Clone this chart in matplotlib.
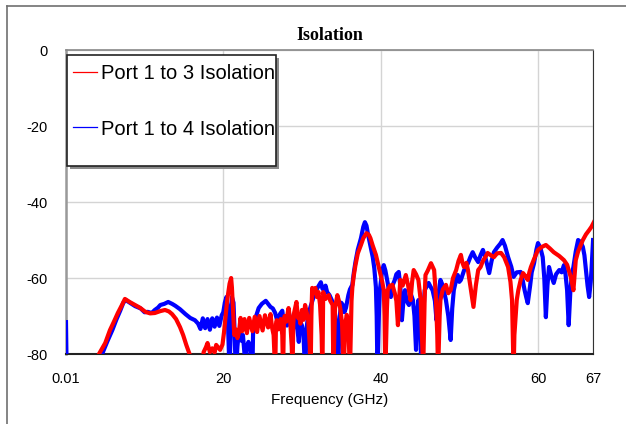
import matplotlib
matplotlib.use("Agg")
import matplotlib.pyplot as plt
from matplotlib.patches import Rectangle
from matplotlib.lines import Line2D

plt.rcParams['axes.unicode_minus'] = False

# Port 1 to 4 isolation (blue): frequency in GHz, level in dB
# (values below -80 just mean "off the bottom of the chart")
freqP14 = [0.01, 0.1, 4.3, 4.6, 5.3, 5.9, 6.4, 6.9, 7.3, 7.6, 8.2, 8.8, 9.5, 10.0, 10.4, 10.9,
           11.3, 11.7, 12.0, 12.5, 13.0, 13.5, 13.9, 14.5, 15.2, 15.8, 16.4, 16.8, 17.1, 17.4,
           17.7, 18.0, 18.3, 18.6, 18.9, 19.2, 19.5, 19.8, 20.0, 20.2, 20.4, 20.5, 20.6, 20.8,
           21.0, 21.1, 21.3, 21.4, 21.6, 21.8, 21.9, 22.1, 22.3, 22.5, 22.7, 22.8, 23.0, 23.2,
           23.5, 23.7, 23.8, 24.1, 24.5, 24.9, 25.4, 25.7, 26.0, 26.3, 26.6, 26.8, 27.0, 27.2,
           27.5, 27.7, 27.9, 28.1, 28.3, 28.5, 28.8, 29.0, 29.2, 29.4, 29.6, 29.8, 30.0, 30.2,
           30.4, 30.6, 30.8, 31.1, 31.4, 31.7, 32.0, 32.4, 32.6, 32.8, 33.0, 33.2, 33.5, 33.9,
           34.1, 34.3, 34.5, 34.6, 34.8, 35.0, 35.2, 35.4, 35.6, 35.9, 36.1, 36.4, 36.6, 36.8,
           37.1, 37.5, 37.8, 38.0, 38.2, 38.4, 38.7, 39.0, 39.2, 39.4, 39.5, 39.6, 39.8, 39.9,
           40.2, 40.4, 40.6, 40.9, 41.1, 41.3, 41.5, 41.8, 42.0, 42.3, 42.5, 42.7, 42.9, 43.1,
           43.3, 43.6, 43.8, 44.1, 44.3, 44.5, 44.6, 44.8, 45.0, 45.2, 45.4, 45.6, 45.9, 46.1,
           46.4, 46.6, 46.9, 47.1, 47.3, 47.6, 47.9, 48.3, 48.6, 48.9, 49.1, 49.3, 49.6, 49.8,
           50.0, 50.2, 50.6, 51.1, 51.4, 51.7, 52.0, 52.4, 52.7, 53.0, 53.3, 53.6, 53.8, 54.1,
           54.4, 54.8, 55.2, 55.5, 55.8, 56.2, 56.6, 56.9, 57.3, 57.8, 58.0, 58.3, 58.5, 58.7,
           59.0, 59.2, 59.5, 59.8, 60.0, 60.3, 60.6, 60.8, 61.0, 61.2, 61.4, 61.7, 62.0, 62.3,
           62.7, 63.0, 63.3, 63.5, 63.7, 63.9, 64.1, 64.3, 64.5, 64.8, 65.1, 65.4, 65.7, 65.9,
           66.1, 66.3, 66.5, 66.7, 66.8, 67.0]
isoP14 = [-71.6, -85, -85, -80, -76.5, -73.7, -71.0, -68.6, -66.5, -65.8, -66.6, -67.4, -68.0, -69.0, -68.9, -69.2,
          -68.4, -67.8, -67.1, -66.8, -66.3, -66.8, -67.3, -68.2, -69.5, -70.5, -71.1, -72.0, -73.4, -70.6,
          -73.2, -70.8, -73.6, -70.6, -72.8, -70.4, -72.6, -69.8, -69.0, -66.5, -65.0, -67.0, -72.0, -85,
          -68.0, -65.0, -66.5, -72.0, -85, -78.0, -75.8, -74.5, -76.5, -75.0, -80.0, -85, -78.0, -76.8,
          -79.0, -85, -73.0, -70.5, -67.9, -66.8, -66.0, -66.8, -67.6, -68.0, -69.2, -70.8, -71.6, -69.5,
          -68.6, -71.8, -70.5, -72.5, -68.9, -70.5, -74.8, -71.0, -70.0, -73.0, -76.8, -71.5, -72.5, -75.0,
          -85, -73.0, -69.7, -67.5, -65.5, -63.7, -62.5, -61.1, -62.8, -63.2, -62.0, -63.7, -64.5, -66.3,
          -68.0, -71.6, -77.0, -85, -70.0, -66.5, -67.1, -69.0, -67.8, -64.5, -63.0, -61.8, -58.5, -55.8,
          -52.5, -49.5, -46.5, -45.3, -46.2, -48.5, -51.5, -54.5, -57.5, -62.4, -70.0, -85, -68.0, -63.2,
          -58.0, -56.6, -58.0, -61.3, -64.0, -65.0, -62.0, -60.5, -59.0, -58.4, -62.0, -71.1, -66.0, -63.2,
          -66.0, -67.1, -64.0, -65.8, -70.0, -78.9, -70.0, -65.8, -72.0, -85, -70.0, -63.2, -62.0, -61.3,
          -62.5, -63.2, -66.0, -71.1, -65.0, -60.5, -62.0, -65.8, -70.0, -76.3, -68.0, -63.2, -60.5, -59.2,
          -61.0, -60.5, -58.0, -56.1, -54.5, -53.2, -54.5, -55.8, -54.0, -52.6, -54.5, -57.0, -58.7, -55.5,
          -53.2, -52.0, -51.0, -50.0, -51.5, -54.5, -57.0, -59.7, -58.5, -58.4, -60.0, -63.2, -65.0, -66.6,
          -62.0, -58.5, -56.1, -52.5, -50.8, -52.0, -54.5, -60.0, -70.3, -62.0, -57.1, -59.5, -61.3, -59.0,
          -57.9, -58.5, -56.6, -59.0, -63.2, -72.4, -64.0, -59.0, -57.1, -53.0, -50.0, -50.5, -51.8, -54.0,
          -57.9, -62.0, -65.0, -61.0, -57.9, -50.0]

# Port 1 to 3 isolation (red)
freqP13 = [0.01, 4.1, 4.2, 5.0, 5.6, 6.1, 6.6, 7.1, 7.5, 8.1, 8.8, 9.4, 10.1, 10.7, 11.3, 12.0,
           12.6, 13.1, 13.5, 14.0, 14.5, 14.9, 15.3, 15.8, 16.0, 17.4, 17.5, 17.8, 18.0, 18.3,
           18.6, 18.9, 19.1, 19.4, 19.6, 19.9, 20.1, 20.3, 20.5, 20.8, 21.0, 21.1, 21.2, 21.4,
           21.6, 21.8, 22.0, 22.2, 22.4, 22.7, 23.0, 23.3, 23.7, 24.0, 24.3, 24.6, 25.0, 25.3,
           25.7, 26.0, 26.2, 26.4, 26.6, 26.7, 26.8, 27.0, 27.3, 27.5, 27.6, 27.7, 27.8, 28.0,
           28.3, 28.5, 28.7, 28.8, 28.9, 29.0, 29.3, 29.5, 29.6, 29.8, 30.0, 30.2, 30.4, 30.6,
           30.8, 31.0, 31.1, 31.2, 31.3, 31.5, 31.7, 31.9, 32.1, 32.3, 32.5, 32.6, 32.7, 33.0,
           33.4, 33.6, 33.9, 34.0, 34.2, 34.5, 34.7, 34.9, 35.1, 35.3, 35.5, 35.7, 35.9, 36.1,
           36.3, 36.4, 36.6, 36.8, 37.1, 37.5, 37.8, 38.2, 38.5, 38.7, 39.0, 39.4, 39.7, 40.0,
           40.2, 40.4, 40.5, 40.6, 40.8, 40.9, 41.2, 41.5, 41.8, 42.0, 42.2, 42.4, 42.5, 42.8,
           43.2, 43.5, 43.8, 44.0, 44.2, 44.5, 44.8, 45.1, 45.3, 45.4, 45.6, 45.7, 46.0, 46.4,
           46.6, 46.8, 47.0, 47.2, 47.3, 47.5, 47.6, 47.9, 48.3, 48.6, 48.9, 49.2, 49.6, 49.9,
           50.2, 50.4, 50.6, 50.9, 51.1, 51.4, 51.8, 52.1, 52.4, 52.7, 53.0, 53.3, 53.6, 54.0,
           54.4, 54.8, 55.3, 55.7, 56.2, 56.5, 56.7, 56.8, 56.9, 57.0, 57.3, 57.5, 57.8, 58.1,
           58.4, 58.7, 58.9, 59.1, 59.5, 60.0, 60.5, 61.0, 61.5, 62.0, 62.7, 63.3, 63.7, 63.9,
           64.2, 64.5, 64.8, 65.1, 65.4, 65.7, 66.1, 66.5, 66.8, 67.1]
isoP13 = [-85, -85, -80, -77.1, -73.7, -71.5, -69.2, -67.2, -65.5, -66.3, -67.1, -67.8, -68.9, -69.3, -69.2, -68.7,
          -68.4, -68.8, -69.5, -70.8, -72.9, -75.0, -77.6, -80.5, -85, -85, -79.5, -78.2, -77.1, -79.5,
          -78.5, -79.6, -77.6, -78.4, -78.9, -77.5, -74.2, -70.0, -65.8, -61.5, -60.0, -62.5, -66.5, -75.0,
          -73.5, -75.8, -74.2, -70.5, -74.0, -70.8, -74.5, -70.5, -74.0, -70.2, -74.2, -70.0, -73.8, -69.8,
          -73.0, -69.5, -73.0, -75.0, -85, -72.0, -71.1, -73.5, -70.8, -75.0, -85, -72.0, -70.0, -71.5,
          -67.9, -71.0, -78.0, -85, -72.0, -69.2, -66.3, -70.5, -69.5, -72.0, -68.4, -71.0, -67.1, -69.0,
          -71.1, -78.0, -85, -70.0, -62.6, -64.0, -62.6, -65.0, -63.7, -67.0, -75.0, -85, -63.7, -65.5,
          -64.5, -66.0, -67.1, -85, -68.0, -64.5, -66.0, -68.4, -72.0, -85, -72.0, -69.7, -73.0, -85,
          -66.0, -62.6, -59.2, -56.6, -53.5, -51.3, -49.5, -48.2, -48.6, -49.5, -51.5, -53.9, -56.5, -59.2,
          -61.0, -63.2, -70.0, -85, -68.0, -63.2, -62.0, -61.8, -64.0, -66.0, -72.4, -64.0, -60.5, -62.0,
          -59.2, -62.0, -65.8, -61.0, -57.9, -59.0, -60.5, -66.0, -78.0, -85, -65.0, -59.2, -58.0, -56.1,
          -57.0, -57.9, -64.0, -75.0, -85, -70.0, -65.8, -63.0, -61.8, -64.0, -63.2, -60.0, -57.9, -55.5,
          -53.9, -56.0, -57.1, -56.0, -57.9, -62.0, -67.6, -62.0, -57.9, -57.1, -55.5, -54.5, -53.4, -54.0,
          -54.5, -53.5, -53.4, -54.5, -57.1, -61.0, -65.8, -75.0, -85, -75.0, -65.8, -63.2, -60.5, -58.7,
          -59.5, -60.5, -58.5, -57.1, -55.0, -52.6, -51.8, -51.3, -52.2, -53.2, -54.2, -55.3, -56.5, -57.9,
          -60.0, -63.2, -55.3, -53.0, -51.5, -50.0, -48.5, -47.4, -46.5, -45.3]

xTicks = [0.01, 20, 40, 60, 67]
xTickLabels = ["0.01", "20", "40", "60", "67"]
yTicks = [0, -20, -40, -60, -80]
yTickLabels = ["0", "-20", "-40", "-60", "-80"]
labelP13 = "Port 1 to 3 Isolation"
labelP14 = "Port 1 to 4 Isolation"

fig = plt.figure(figsize=(6.26, 4.24), dpi=100)
ax = fig.add_axes([0.1054, 0.165, 0.842, 0.717])

# outer frame of the picture (only left and top edges are visible)
fig.add_artist(Line2D([7/626, 7/626], [0, 1 - 6/424], transform=fig.transFigure, color='#707070', lw=1.2))
fig.add_artist(Line2D([7/626, 1], [1 - 6/424, 1 - 6/424], transform=fig.transFigure, color='#707070', lw=1.2))

ax.plot(freqP14, isoP14, color='#0000ff', lw=3.0, zorder=3)
ax.plot(freqP13, isoP13, color='#ff0000', lw=3.0, zorder=4)

ax.set_xlim(0.01, 67)
ax.set_ylim(-80, 0)
ax.set_xticks(xTicks)
ax.set_xticklabels(xTickLabels)
ax.set_yticks(yTicks)
ax.set_yticklabels(yTickLabels)
ax.tick_params(length=0, labelsize=10.5, pad=13)
for lbl in ax.get_xticklabels() + ax.get_yticklabels():
    lbl.set_family('Liberation Sans')
ax.grid(True, color='#d4d4d4', lw=1)
ax.set_axisbelow(True)

ax.spines['left'].set_color('#999999')
ax.spines['left'].set_linewidth(1.8)
ax.spines['top'].set_color('#888888')
ax.spines['top'].set_linewidth(1.2)
ax.spines['right'].set_color('#333333')
ax.spines['bottom'].set_color('#222222')
ax.spines['bottom'].set_linewidth(1.5)

ax.set_title("Isolation", family='Liberation Serif', fontweight='bold', fontsize=13, pad=7)
ax.set_xlabel("Frequency (GHz)", family='Liberation Sans', fontsize=11, labelpad=5)

# legend box drawn by hand, shadow offset down-right
bx, by, bw, bh = 0.002, 0.6184, 0.397, 0.3651
ax.add_patch(Rectangle((bx + 0.0057, by - 0.0099), bw, bh, transform=ax.transAxes,
                       facecolor='#8a8a8a', edgecolor='none', zorder=9, clip_on=False))
ax.add_patch(Rectangle((bx, by), bw, bh, transform=ax.transAxes,
                       facecolor='white', edgecolor='#222222', lw=1.2, zorder=10, clip_on=False))
rows = [(labelP13, '#ff0000', 0.929, 0.9046), (labelP14, '#0000ff', 0.7467, 0.7204)]
for name, col, yLine, yText in rows:
    ax.add_line(Line2D([0.0133, 0.0588], [yLine, yLine], transform=ax.transAxes,
                       color=col, lw=0.9, zorder=11))
    ax.text(0.0664, yText, name, transform=ax.transAxes, family='Liberation Sans',
            fontsize=14.5, va='baseline', ha='left', zorder=11)

plt.savefig("out.png", dpi=100)
plt.close()
